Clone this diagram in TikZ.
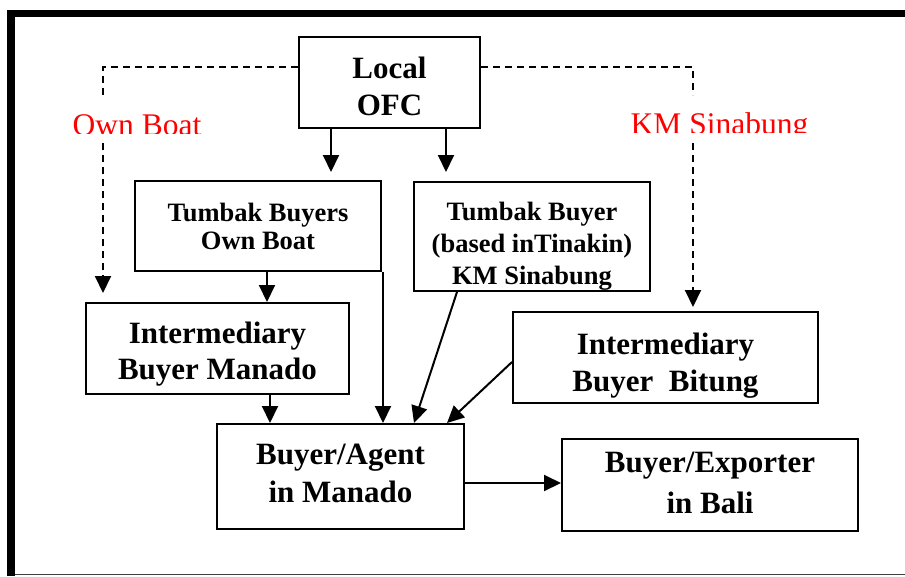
\documentclass[tikz,border=0pt]{standalone}
\usepackage{fontspec}
\setmainfont{Liberation Serif}
\usetikzlibrary{arrows.meta}
\begin{document}
\begin{tikzpicture}[x=1pt,y=-1pt,
  bx/.style={draw, line width=2pt, inner xsep=0pt, inner ysep=0pt, align=center, anchor=north west,
    font=\bfseries\fontsize{31}{37}\selectfont},
  bxs/.style={bx, font=\bfseries\fontsize{26.5}{28}\selectfont},
  bxt/.style={bx, font=\bfseries\fontsize{26.5}{32}\selectfont},
  con/.style={line width=2pt, -{Triangle[length=17pt,width=16pt]}},
  dsh/.style={line width=2pt, dash pattern=on 7pt off 5pt},
  dsharr/.style={dsh, -{Triangle[length=17pt,width=16pt]}},
  lbl/.style={text=red, font=\fontsize{31.5}{36}\selectfont, inner sep=0pt, anchor=base}]
\useasboundingbox (0,0) rectangle (905,576);
% frame
\fill[black] (7,10) rectangle (905,17);
\fill[black] (7,10) rectangle (15,576);
\draw[line width=1.5pt, black!75] (15,574.5) -- (905,574.5);

% boxes
\node[bx, minimum width=181pt] (ofc) at (298,36)
  {\rule{0pt}{41pt}Local\\OFC\rule[-13pt]{0pt}{13pt}};
\node[bxs, minimum width=246pt] (tb1) at (134,180)
  {\rule{0pt}{40pt}Tumbak Buyers\\Own Boat\rule[-22pt]{0pt}{22pt}};
\node[bxt, minimum width=236pt] (tb2) at (413,181)
  {\rule{0pt}{38pt}Tumbak Buyer\\(based inTinakin)\\KM Sinabung\rule[-7pt]{0pt}{7pt}};
\node[bx, minimum width=263pt, font=\bfseries\fontsize{31}{36}\selectfont] (imb) at (85,302)
  {\rule{0pt}{40pt}Intermediary\\Buyer Manado\rule[-15pt]{0pt}{15pt}};
\node[bx, minimum width=305pt] (iba) at (512,311)
  {\rule{0pt}{42pt}Intermediary\\Buyer~~Bitung\rule[-12pt]{0pt}{12pt}};
\node[bx, minimum width=247pt, font=\bfseries\fontsize{31}{38}\selectfont] (baa) at (216,423)
  {\rule{0pt}{40pt}Buyer/Agent\\in Manado\rule[-27pt]{0pt}{27pt}};
\node[bx, minimum width=296pt, font=\bfseries\fontsize{31}{41}\selectfont] (bae) at (561,438)
  {\rule{0pt}{33pt}Buyer/Exporter\\in Bali\rule[-18pt]{0pt}{18pt}};

% red labels (clipped at the bottom as in the original)
\begin{scope}
  \clip (0,0) rectangle (905,133);
  \node[lbl] (ob) at (137,135) {Own Boat};
\end{scope}
\begin{scope}
  \clip (0,0) rectangle (905,132);
  \node[lbl] (km) at (719.5,134) {KM Sinabung};
\end{scope}

% helper coordinates
\coordinate (p1) at (331,0);
\coordinate (p2) at (446,0);
\coordinate (p3) at (267,0);
\coordinate (p4) at (383,0);
\coordinate (p5) at (270,0);
\coordinate (p6) at (457,0);
\coordinate (p7) at (414,0);
\coordinate (p8) at (0,362);
\coordinate (p9) at (447,0);
\coordinate (p10) at (0,483);
\coordinate (q1) at (103,67);
\coordinate (q2) at (103,95);
\coordinate (q3) at (103,143);
\coordinate (r1) at (693,67);
\coordinate (r2) at (693,95);
\coordinate (r3) at (693,143);

% solid connectors
\draw[con, shorten >=8pt] (p1 |- ofc.south) -- (p1 |- tb1.north);
\draw[con, shorten >=9pt] (p2 |- ofc.south) -- (p2 |- tb2.north);
\draw[con] (p3 |- tb1.south) -- (p3 |- imb.north);
\draw[con] (p4 |- tb1.south) -- (p4 |- baa.north);
\draw[con] (p5 |- imb.south) -- (p5 |- baa.north);
\draw[con] (p6 |- tb2.south) -- (p7 |- baa.north);
\draw[con] (iba.west |- p8) -- (p9 |- baa.north);
\draw[con] (baa.east |- p10) -- (bae.west |- p10);

% dashed connectors
\draw[dsh] (ofc.west |- q1) -- (q1) -- (q2);
\draw[dsharr, shorten >=9pt] (q3) -- (q3 |- imb.north);
\draw[dsh] (ofc.east |- r1) -- (r1) -- (r2);
\draw[dsharr, shorten >=4pt] (r3) -- (r3 |- iba.north);
\end{tikzpicture}
\end{document}
